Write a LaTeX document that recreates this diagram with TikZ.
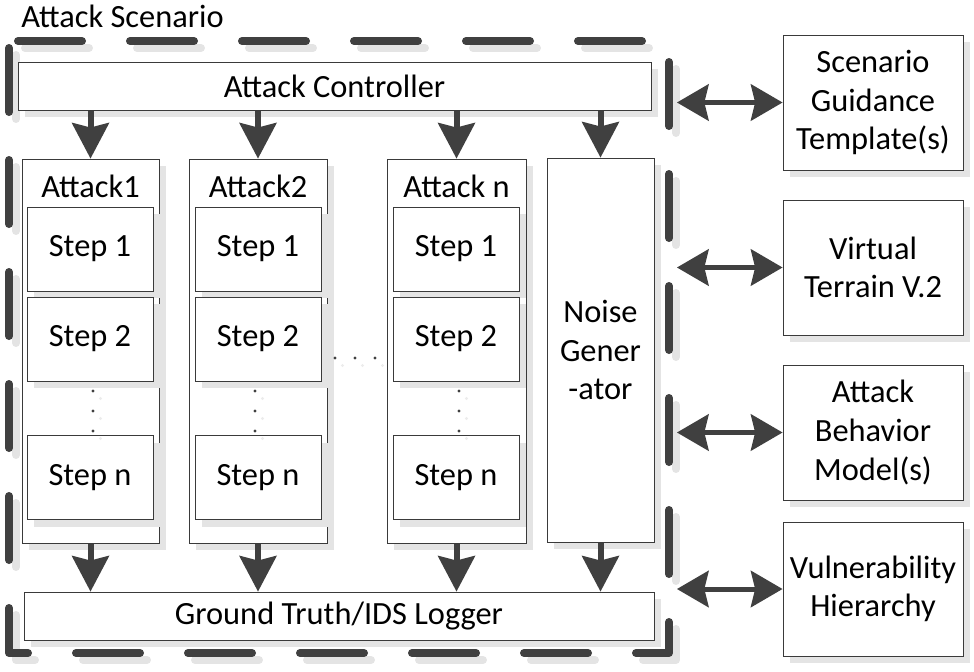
\documentclass[tikz,border=0pt]{standalone}
\usepackage{fontspec}
\setmainfont{Carlito}
\usetikzlibrary{arrows.meta,shadows}
\definecolor{dark}{HTML}{404040}
\definecolor{shade}{HTML}{E4E4E4}
\definecolor{boxline}{HTML}{3A3A3A}
\tikzset{
  box/.style={draw=boxline, fill=white, line width=0.75pt, inner sep=0pt, align=center,
    drop shadow={shadow xshift=5.25pt, shadow yshift=-5.25pt, fill=shade, opacity=1}},
  txt/.style={inner sep=0pt},
  frameline/.style={line width=6pt, line cap=round, line join=round,
    dash pattern=on 48pt off 36pt, dash phase=78.75pt},
  darr/.style={draw=dark, line width=4.5pt,
    -{Stealth[length=27pt, width=28.5pt, inset=3.75pt, line width=0pt]}},
  dbl/.style={draw=dark, line width=3.75pt,
    {Stealth[length=24pt, width=28pt, inset=3.5pt, line width=0pt]}-{Stealth[length=24pt, width=28pt, inset=3.5pt, line width=0pt]}},
  dotc/.style={fill=dark},
  dots/.style={fill=shade!70}
}
\begin{document}
\begin{tikzpicture}[x=0.75pt, y=-0.75pt, font=\fontsize{24.3}{29}\selectfont]
\useasboundingbox (0,0) rectangle (974,671);
% frame
\draw[frameline, draw=shade] (16,48) rectangle (676,660);
\draw[frameline, draw=dark] (9,41) rectangle (669,653);
\node[txt, anchor=base west] (title) at (21,27) {Attack Scenario};

% attack controller
\node[box, minimum width=474.75pt, minimum height=36pt] (ac) at (334.5,86) {Attack Controller};

% attack boxes
\node[box, minimum width=102.75pt, minimum height=288pt] (a1) at (90.5,351) {};
\node[box, minimum width=103.5pt, minimum height=288pt] (a2) at (258,351) {};
\node[box, minimum width=104.25pt, minimum height=288pt] (an) at (456.5,351) {};
\node[box, minimum width=80.25pt, minimum height=288pt] (ng) at (600.5,350) {Noise\\Gener\\-ator};

\node[txt, anchor=base] (t1) at ([yshift=-29.5pt]a1.north) {Attack1};
\node[txt, anchor=base] (t2) at ([yshift=-29.5pt]a2.north) {Attack2};
\node[txt, anchor=base] (t3) at ([yshift=-29.5pt]an.north) {Attack n};

% steps
\foreach \c/\x in {1/90, 2/258, 3/456}{
  \node[box, minimum width=94.5pt, minimum height=63pt] (s\c a) at (\x,249) {Step 1};
  \node[box, minimum width=94.5pt, minimum height=63pt] (s\c b) at (\x,339) {Step 2};
  \node[box, minimum width=94.5pt, minimum height=63pt] (s\c n) at (\x,477.5) {Step n};
}

% vertical dots
\foreach \x in {93,255,459}{
  \foreach \y in {391,411,431}{
    \fill[dots] (\x+7.5,\y+7.5) circle[radius=1.3pt];
    \fill[dotc] (\x,\y) circle[radius=1.3pt];
  }
}
% horizontal dots
\foreach \x in {335,355,375}{
  \fill[dots] (\x+7.5,358+7.5) circle[radius=1.3pt];
  \fill[dotc] (\x,358) circle[radius=1.3pt];
}

% ground truth
\node[box, minimum width=472.5pt, minimum height=36pt] (gt) at (339,616) {Ground Truth/IDS Logger};

% arrows down
\draw[darr] (ac.south -| a1.north) -- (a1.north);
\draw[darr] (ac.south -| a2.north) -- (a2.north);
\draw[darr] (ac.south -| an.north) -- (an.north);
\draw[darr] (ac.south -| ng.north) -- (ng.north);
\draw[darr] (a1.south) -- (a1.south |- gt.north);
\draw[darr] (a2.south) -- (a2.south |- gt.north);
\draw[darr] (an.south) -- (an.south |- gt.north);
\draw[darr] (ng.south) -- (ng.south |- gt.north);

% right boxes
\node[box, minimum width=135pt, minimum height=101.25pt] (r1) at (873,102.5) {Scenario\\Guidance\\Template(s)};
\node[box, minimum width=135pt, minimum height=101.25pt] (r2) at (873,267.5) {Virtual\\Terrain V.2};
\node[box, minimum width=135pt, minimum height=101.25pt] (r3) at (873,432.5) {Attack\\Behavior\\Model(s)};
\node[box, minimum width=135pt, minimum height=100.5pt] (r4) at (873,589) {Vulnerability\\Hierarchy};

\coordinate (f1) at (677,102.5);
\coordinate (f2) at (677,267.5);
\coordinate (f3) at (677,432.5);
\coordinate (f4) at (677,589);
\draw[dbl] (f1) -- (r1.west);
\draw[dbl] (f2) -- (r2.west);
\draw[dbl] (f3) -- (r3.west);
\draw[dbl] (f4) -- (r4.west);
\end{tikzpicture}
\end{document}
